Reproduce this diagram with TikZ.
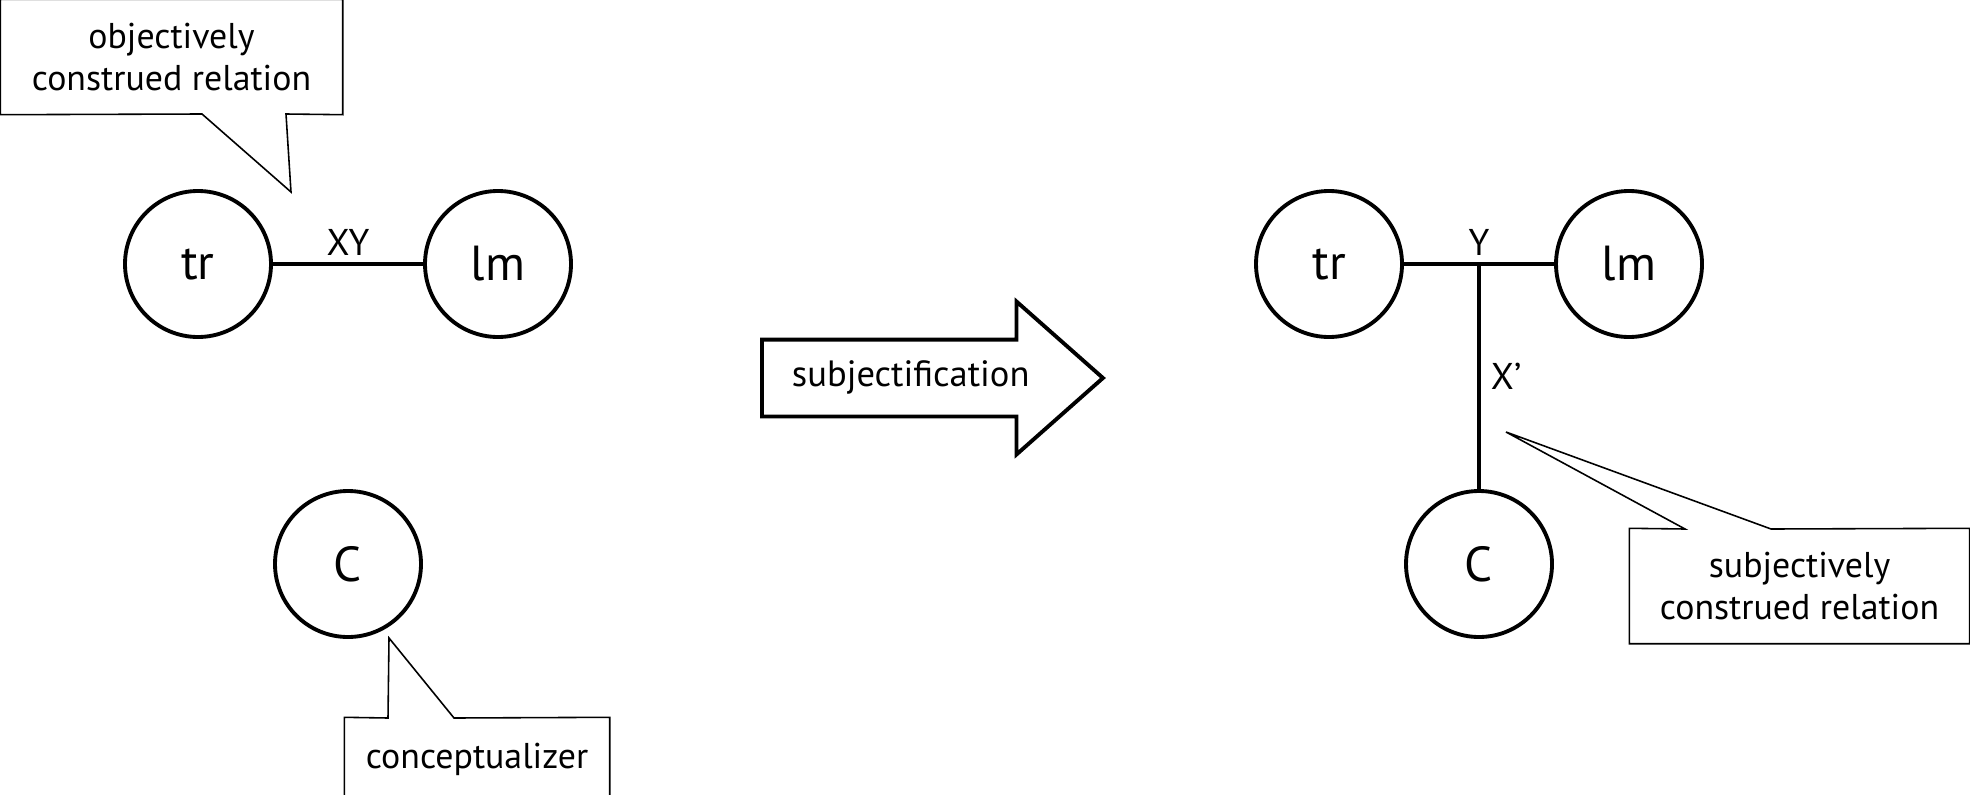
\documentclass[tikz,border=0pt]{standalone}
\usepackage{fontspec}
\setmainfont{PT Sans}
\usepackage{tikz}
\usetikzlibrary{shapes.arrows}
\tikzstyle{entity} = [circle, minimum size=1.46cm, inner sep=0pt, draw=black, line width=1.1pt, font=\fontsize{14}{16}\selectfont]
\tikzstyle{note} = [rectangle, align=center, inner sep=0pt, font=\fontsize{10.2}{11.8}\selectfont]
\tikzstyle{noteline} = [draw=black, line width=0.45pt]
\tikzstyle{relation} = [line width=1.1pt]
\tikzstyle{label} = [font=\fontsize{10.6}{12}\selectfont, inner sep=2pt]
\tikzstyle{bigarrow} = [single arrow, draw=black, line width=1.1pt, minimum height=3.41cm, minimum width=1.50cm, single arrow head extend=0.38cm, single arrow tip angle=83, inner xsep=0pt, inner ysep=0.2cm, text height=0.25cm, text depth=0.08cm, font=\fontsize{10.4}{12}\selectfont]

\begin{document}
\begin{tikzpicture}[node distance = 3cm]
	\useasboundingbox (0,0) rectangle (19.70,-7.94);

	% before
	\node (trA) [entity] at (1.98,-2.64) {tr};
	\node (lmA) [entity, right of=trA] {lm};
	\node (cA) [entity, below of=trA, xshift=1.5cm] {C};
	\draw [relation] (trA) -- node[label, above] {XY} (lmA);

	\node (objNote) [note, minimum width=3.41cm, minimum height=1.14cm] at (1.715,-0.57) {objectively\\construed relation};
	\coordinate (objTip) at (2.91,-1.92);
	\draw [noteline] (objNote.south west) -- (objNote.north west) -- (objNote.north east) -- (objNote.south east) -- (2.86,-1.14) -- (objTip) -- (2.02,-1.14) -- cycle;

	\node (conNote) [note, minimum width=2.64cm, minimum height=0.82cm] at (4.77,-7.59) {conceptualizer};
	\coordinate (conTip) at (3.89,-6.38);
	\draw [noteline] (conNote.north west) -- (3.88,-7.18) -- (conTip) -- (4.54,-7.18) -- (conNote.north east) -- (conNote.south east) -- (conNote.south west) -- cycle;

	% subjectification
	\node (subj) [bigarrow, anchor=tail] at (7.60,-3.78) {subjectification};

	% after
	\node (trB) [entity] at (13.29,-2.64) {tr};
	\node (lmB) [entity, right of=trB] {lm};
	\node (cB) [entity, below of=trB, xshift=1.5cm] {C};
	\coordinate (joint) at (cB |- trB);
	\draw [relation] (trB) -- (lmB);
	\draw [relation] (joint) node[label, above] {Y} -- node[label, right, xshift=0.03cm] {X'} (cB);

	\node (subNote) [note, minimum width=3.39cm, minimum height=1.14cm] at (17.995,-5.86) {subjectively\\construed relation};
	\coordinate (subTip) at (15.06,-4.32);
	\draw [noteline] (subNote.north west) -- (16.85,-5.29) -- (subTip) -- (17.71,-5.29) -- (subNote.north east) -- (subNote.south east) -- (subNote.south west) -- cycle;
\end{tikzpicture}
\end{document}
